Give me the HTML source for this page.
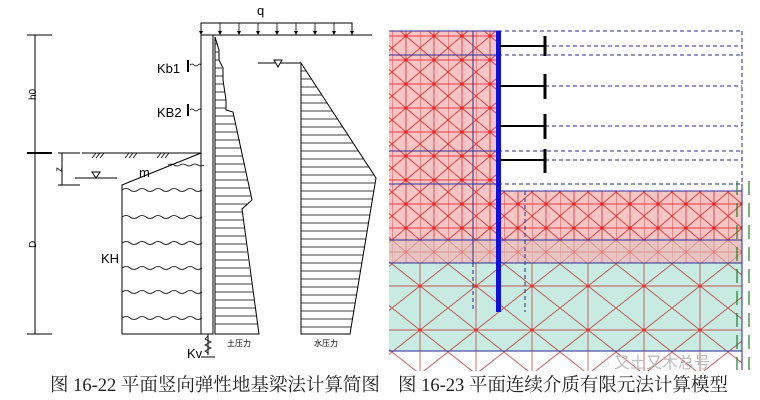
<!DOCTYPE html>
<html><head><meta charset="utf-8"><style>
body{margin:0;background:#fff;width:760px;height:400px;overflow:hidden}
svg{display:block}
</style></head><body>
<svg width="760" height="400" viewBox="0 0 760 400" xmlns="http://www.w3.org/2000/svg">
<defs>
<pattern id="mesh" width="28" height="24" patternUnits="userSpaceOnUse">
<path d="M0 0L14 12L28 0M0 24L14 12L28 24M0 12H28M14 0V24M0 0V24" stroke="#e02020" stroke-width="0.9" fill="none"/>
<circle cx="14" cy="12" r="1.6" fill="#e00"/>
</pattern>
<pattern id="meshL" width="56" height="44" patternUnits="userSpaceOnUse">
<path d="M0 0L28 22L56 0M0 44L28 22L56 44M0 22H56M28 0V44" stroke="#c03030" stroke-width="0.9" fill="none"/>
<circle cx="28" cy="22" r="1.6" fill="#e00"/>
</pattern>
</defs>
<g stroke="#000" fill="none" stroke-width="1">
<rect x="201" y="23" width="151" height="12"/>
<line x1="201" y1="35" x2="372" y2="35"/>
<g stroke-width="0.8">
<line x1="201" y1="23" x2="201" y2="34"/><line x1="220" y1="23" x2="220" y2="34"/><line x1="239" y1="23" x2="239" y2="34"/><line x1="258" y1="23" x2="258" y2="34"/><line x1="277" y1="23" x2="277" y2="34"/><line x1="296" y1="23" x2="296" y2="34"/><line x1="315" y1="23" x2="315" y2="34"/><line x1="334" y1="23" x2="334" y2="34"/><line x1="352" y1="23" x2="352" y2="34"/>
</g>
<rect x="201" y="35" width="12" height="299"/>
<line x1="35" y1="35" x2="35" y2="334"/>
<line x1="27" y1="35" x2="52" y2="35"/><line x1="27" y1="153" x2="52" y2="153" stroke-width="2"/><line x1="27" y1="334" x2="52" y2="334"/>
<line x1="62" y1="153" x2="62" y2="185"/><line x1="58" y1="153" x2="80" y2="153"/><line x1="58" y1="185" x2="80" y2="185"/>
<line x1="82" y1="153" x2="201" y2="153"/>
<polyline points="122,334 122,185 201,153"/>
<line x1="122" y1="334" x2="201" y2="334"/>
<line x1="75" y1="178" x2="117" y2="178"/>
<polygon points="215,37 219,50 219,60 223,68 223,80 226,100 226,110 233,112 252,200 242,209 259,334 215,334"/>
<line x1="258" y1="63" x2="301" y2="63"/>
<polygon points="301,63 376,178 350,334 301,334"/>
<line x1="208" y1="334" x2="208" y2="355"/>
<line x1="201" y1="357" x2="215" y2="357"/>
</g>
<g fill="#000">
<path d="M199 31h4l-2 4zM218 31h4l-2 4zM237 31h4l-2 4zM256 31h4l-2 4zM275 31h4l-2 4zM294 31h4l-2 4zM313 31h4l-2 4zM332 31h4l-2 4zM350 31h4l-2 4z"/>
</g>
<g stroke="#000" stroke-width="0.7">
<path d="M215 44H218M215 52H219M215 60H219M215 68H222M215 76H223M215 84H224M215 92H225M215 100H226M215 108H226"/>
<path d="M215 116H234M215 124H236M215 132H238M215 140H240M215 148H241M215 156H243M215 164H245M215 172H246M215 180H248M215 188H250M215 196H251M215 204H247M215 212H242M215 220H243M215 228H244M215 236H245M215 244H246M215 252H247M215 260H248M215 268H249M215 276H251M215 284H252M215 292H253M215 300H254M215 308H255M215 316H256M215 324H258"/>
<path d="M301 71H306M301 79H311M301 87H316M301 95H322M301 103H327M301 111H332M301 119H337M301 127H343M301 135H348M301 143H353M301 151H358M301 159H363M301 167H369M301 175H374M301 183H375M301 191H374M301 199H372M301 207H371M301 215H370M301 223H368M301 231H367M301 239H366M301 247H364M301 255H363M301 263H362M301 271H360M301 279H359M301 287H358M301 295H356M301 303H355M301 311H354M301 319H352M301 327H351"/>
</g>
<g stroke="#000" stroke-width="0.8" fill="none">
<path d="M122 190q4-3 8 0t8 0t8 0t8 0t8 0t8 0t8 0t8 0t8 0t8 0"/>
<path d="M122 217q4-3 8 0t8 0t8 0t8 0t8 0t8 0t8 0t8 0t8 0t8 0"/>
<path d="M122 243q4-3 8 0t8 0t8 0t8 0t8 0t8 0t8 0t8 0t8 0t8 0"/>
<path d="M122 268q4-3 8 0t8 0t8 0t8 0t8 0t8 0t8 0t8 0t8 0t8 0"/>
<path d="M122 292q4-3 8 0t8 0t8 0t8 0t8 0t8 0t8 0t8 0t8 0t8 0"/>
<path d="M122 318q4-3 8 0t8 0t8 0t8 0t8 0t8 0t8 0t8 0t8 0t8 0"/>
<path d="M168 165q3-2 6 0t6 0t6 0t6 0t6 0t6 0"/>
<path d="M190 65q2-2 4 0t4 0t3 0M190 110q2-2 4 0t4 0t3 0"/>
<path d="M208 336l-3 3l6 3l-6 3l6 3l-6 3l3 2"/>
<path d="M188 60V72M188 104V116" stroke-width="2"/>
<path d="M92 158l4-5M96 158l4-5M100 158l4-5M125 158l4-5M129 158l4-5M133 158l4-5M157 158l4-5M161 158l4-5M165 158l4-5"/>
</g>
<polygon points="92,172 100,172 96,178" fill="#fff" stroke="#000"/>
<polygon points="274,60 282,60 278,67" fill="#fff" stroke="#000"/>
<g font-family="Liberation Sans, sans-serif" font-size="13" fill="#000">
<text x="257" y="15">q</text>
<text x="157" y="73">Kb1</text>
<text x="157" y="117">KB2</text>
<text x="139" y="177">m</text>
<text x="101" y="263">KH</text>
<text x="187" y="358">Kv</text>
<text x="36" y="100" font-size="10" transform="rotate(-90 36 100)">h0</text>
<text x="62" y="172" font-size="10" transform="rotate(-90 62 172)">z</text>
<text x="36" y="248" font-size="10" transform="rotate(-90 36 248)">D</text>
</g>
<g font-family="Liberation Sans, Noto Sans CJK SC, sans-serif" font-size="8" fill="#000">
<text x="227" y="346">土压力</text><text x="314" y="346">水压力</text>
</g>
<rect x="389" y="31" width="109" height="232" fill="#f6c6c6"/>
<rect x="389" y="31" width="109" height="232" fill="url(#mesh)" opacity="0.85"/>
<rect x="498" y="191" width="244" height="72" fill="#f6c6c6"/>
<rect x="498" y="191" width="244" height="72" fill="url(#mesh)" opacity="0.85"/>
<rect x="389" y="240" width="353" height="23" fill="#dcc6c0" opacity="0.6"/>
<rect x="389" y="263" width="353" height="88" fill="#c8ebe2"/>
<rect x="389" y="263" width="353" height="108" fill="url(#meshL)" opacity="0.8"/>
<g stroke="#2a2a9a" stroke-width="1">
<line x1="389" y1="31" x2="498" y2="31"/><line x1="389" y1="55" x2="498" y2="55"/>
<line x1="389" y1="151" x2="498" y2="151"/><line x1="389" y1="184" x2="498" y2="184"/>
<line x1="498" y1="191" x2="742" y2="191"/>
<line x1="389" y1="240" x2="742" y2="240"/><line x1="389" y1="263" x2="742" y2="263"/>
<line x1="389" y1="351" x2="742" y2="351"/>
<line x1="742" y1="184" x2="742" y2="370"/>
<line x1="473" y1="31" x2="473" y2="263"/>
</g>
<g stroke="#2a2a9a" stroke-dasharray="4,3" fill="none">
<line x1="498" y1="31" x2="742" y2="31"/><line x1="545" y1="46" x2="742" y2="46"/><line x1="498" y1="55" x2="742" y2="55"/>
<line x1="545" y1="86" x2="742" y2="86"/><line x1="545" y1="126" x2="742" y2="126"/>
<line x1="498" y1="151" x2="742" y2="151"/><line x1="545" y1="160" x2="742" y2="160"/>
<line x1="498" y1="184" x2="742" y2="184"/>
<line x1="742" y1="31" x2="742" y2="184"/>
<line x1="473" y1="263" x2="473" y2="312"/><line x1="525" y1="191" x2="525" y2="312"/>
</g>
<rect x="496" y="31" width="5" height="281" fill="#1010e0"/>
<g stroke="#000" stroke-width="2">
<line x1="500" y1="46" x2="545" y2="46"/><line x1="545" y1="36" x2="545" y2="56" stroke-width="3"/>
<line x1="500" y1="86" x2="545" y2="86"/><line x1="545" y1="74" x2="545" y2="99" stroke-width="3"/>
<line x1="500" y1="126" x2="545" y2="126"/><line x1="545" y1="114" x2="545" y2="139" stroke-width="3"/>
<line x1="500" y1="160" x2="545" y2="160"/><line x1="545" y1="149" x2="545" y2="173" stroke-width="3"/>
</g>
<g stroke="#208020" stroke-width="1.2" stroke-dasharray="14,8">
<line x1="737" y1="181" x2="737" y2="370"/><line x1="749" y1="181" x2="749" y2="370"/>
</g>
<text x="600" y="368" font-family="Liberation Sans, Noto Sans CJK SC, sans-serif" font-size="16" fill="#bbb">◌ 又土又木总号</text>
<g font-family="Liberation Serif, Noto Serif CJK SC, serif" font-size="18.5" fill="#222">
<text x="50" y="391">图 16-22  平面竖向弹性地基梁法计算简图</text>
<text x="398" y="391">图 16-23  平面连续介质有限元法计算模型</text>
</g>
</svg>
</body></html>
